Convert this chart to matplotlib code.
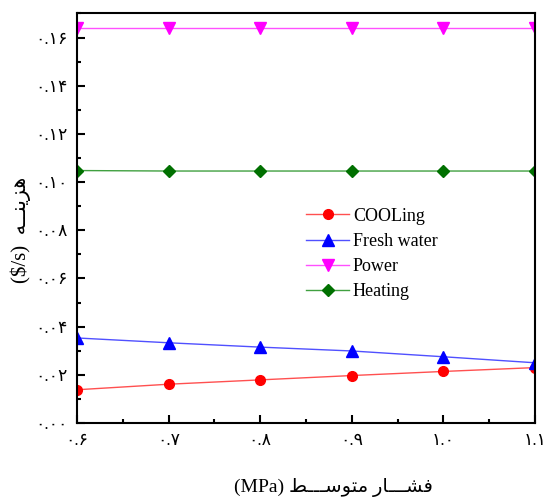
import numpy as np
import matplotlib
matplotlib.use("Agg")
import matplotlib.pyplot as plt
from matplotlib.ticker import MultipleLocator, FixedLocator

# ==================================================
# Daten
# ==================================================

pressure = [0.6, 0.7, 0.8, 0.9, 1.0, 1.1]

cooling = [0.0138, 0.0161, 0.0179, 0.0197, 0.0214, 0.0230]
fresh_water = [0.0353, 0.0333, 0.0315, 0.0299, 0.0275, 0.0250]
power = [0.1640, 0.1640, 0.1640, 0.1640, 0.1640, 0.1640]
heating = [0.1048, 0.1046, 0.1046, 0.1046, 0.1046, 0.1046]

series_names = ["COOLing", "Fresh water", "Power", "Heating"]

x_ticks = [0.6, 0.7, 0.8, 0.9, 1.0, 1.1]
x_tick_labels = ["۰.۶", "۰.۷", "۰.۸", "۰.۹", "۱.۰", "۱.۱"]
y_ticks = [0.0, 0.02, 0.04, 0.06, 0.08, 0.10, 0.12, 0.14, 0.16]
y_tick_labels = ["۰.۰۰", "۰.۰۲", "۰.۰۴", "۰.۰۶", "۰.۰۸", "۰.۱۰", "۰.۱۲", "۰.۱۴", "۰.۱۶"]

# Persian text in visual order (presentation forms, already shaped)
x_label = "(MPa) \uFEC2\u0640\u0640\u0640\uFEB3\uFEEE\uFE98\uFEE3 \uFEAD\uFE8E\u0640\u0640\u0640\uFEB8\uFED3"
y_label = "($/s)  \uFEEA\u0640\u0640\uFEE8\uFEF3\uFEB0\uFEEB"

FONT = ["Liberation Serif", "DejaVu Sans"]
plt.rcParams["font.family"] = FONT

# ==================================================
# Plot
# ==================================================

fig = plt.figure(figsize=(5.47, 4.97), dpi=100)
ax = fig.add_axes([77 / 547, 1 - 423 / 497, (535 - 77) / 547, (423 - 13) / 497])

ax.plot(pressure, cooling, color="#ff5050", lw=1.0, marker="o", ms=7,
        mfc="#ff0000", mec="#ff0000", label=series_names[0])
ax.plot(pressure, fresh_water, color="#5050ff", lw=1.0, marker="^", ms=8,
        mfc="#0000ff", mec="#0000ff", label=series_names[1])
ax.plot(pressure, power, color="#ff50ff", lw=1.0, marker="v", ms=8,
        mfc="#ff00ff", mec="#ff00ff", label=series_names[2])
ax.plot(pressure, heating, color="#40a040", lw=1.0, marker="D", ms=6.5,
        mfc="#007000", mec="#007000", label=series_names[3])

ax.set_xlim(0.6, 1.1)
ax.set_ylim(0.0, 0.1702)

ax.xaxis.set_major_locator(FixedLocator(x_ticks))
ax.set_xticklabels(x_tick_labels)
ax.yaxis.set_major_locator(FixedLocator(y_ticks))
ax.set_yticklabels(y_tick_labels)
ax.xaxis.set_minor_locator(MultipleLocator(0.05))
ax.yaxis.set_minor_locator(MultipleLocator(0.01))

ax.tick_params(which="both", direction="in", top=False, right=False,
               labelsize=12.5, width=1.5, pad=7)
ax.tick_params(which="major", length=6)
ax.tick_params(which="minor", length=3)
ax.tick_params(axis="x", pad=7)
for sp in ax.spines.values():
    sp.set_linewidth(1.5)

ax.set_xlabel(x_label, fontsize=14)
ax.xaxis.set_label_coords(0.56, -0.135)
ax.set_ylabel(y_label, fontsize=15)
ax.yaxis.set_label_coords(-0.1, 0.47)

ax.legend(loc="upper left", bbox_to_anchor=(0.5, 0.525), frameon=False,
          fontsize=13, handlelength=2.4, handletextpad=0.2, labelspacing=0.45,
          borderaxespad=0, borderpad=0)

fig.savefig("out.png", dpi=100)
